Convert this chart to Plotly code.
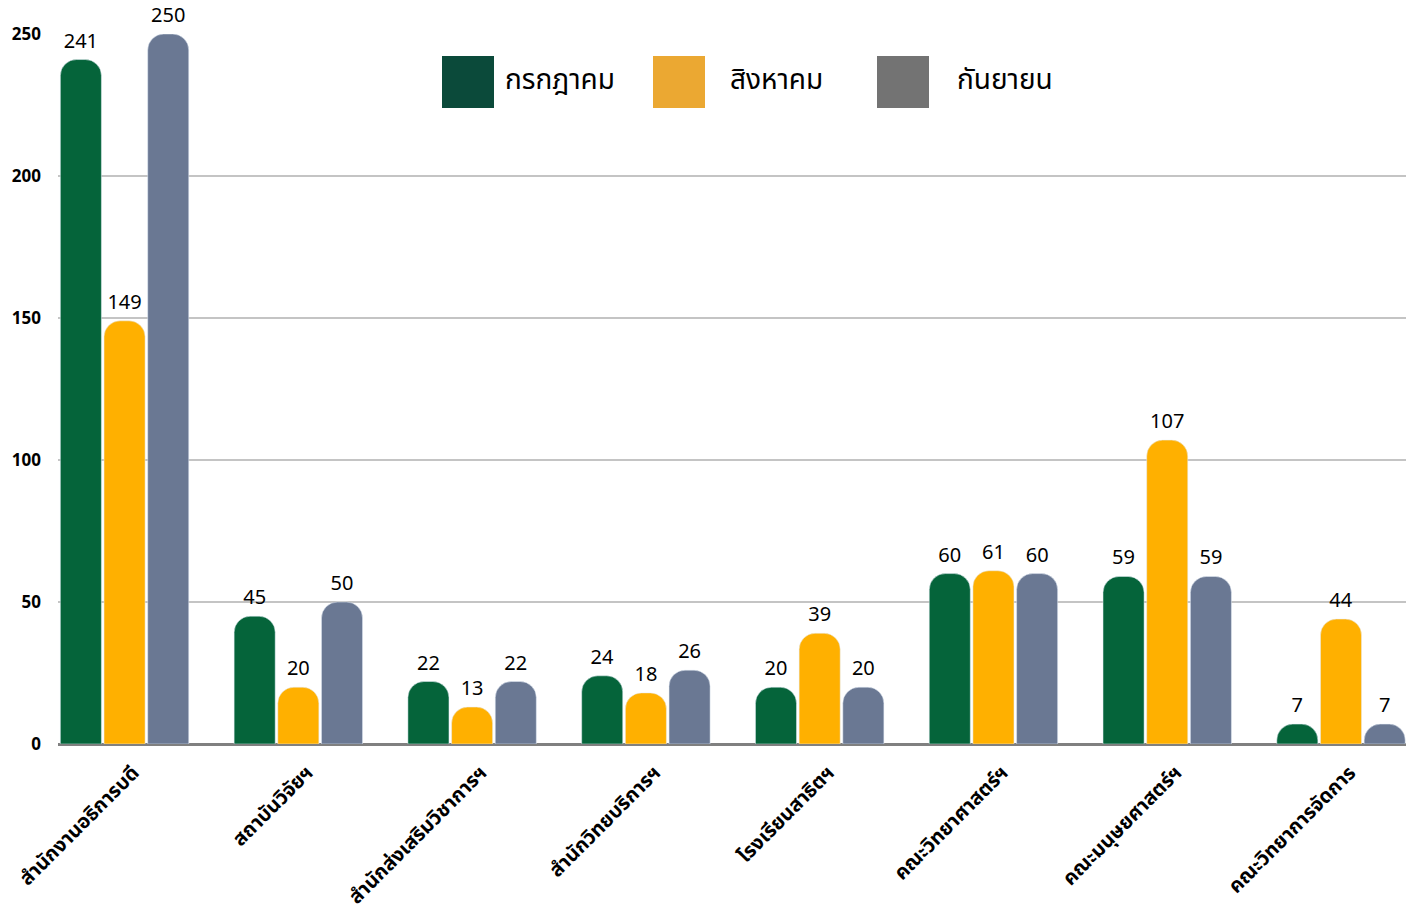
import plotly.graph_objects as go

units = ['สำนักงานอธิการบดี', 'สถาบันวิจัยฯ', 'สำนักส่งเสริมวิชาการฯ', 'สำนักวิทยบริการฯ',
         'โรงเรียนสาธิตฯ', 'คณะวิทยาศาสตร์ฯ', 'คณะมนุษยศาสตร์ฯ', 'คณะวิทยาการจัดการ']
months = ['กรกฎาคม', 'สิงหาคม', 'กันยายน']
jul = [241, 45, 22, 24, 20, 60, 59, 7]
aug = [149, 20, 13, 18, 39, 61, 107, 44]
sep = [250, 50, 22, 26, 20, 60, 59, 7]

bar_colors = ['#05643a', '#ffb000', '#6a7893']
legend_colors = ['#0b4a3a', '#eba832', '#737373']
FONT = 'Noto Sans Thai, Noto Sans, sans-serif'

# page has an 8px body margin, so the figure is a bit smaller than the window
W, H = 1407, 901
L, R, T, B = 50, 9, 26, 165

fig = go.Figure()
for name, vals, c in zip(months, [jul, aug, sep], bar_colors):
    fig.add_trace(go.Bar(
        x=list(range(len(units))), y=vals, name=name, marker_color=c,
        text=vals, textposition='outside', cliponaxis=False,
        textfont=dict(size=20, color='black', family=FONT),
        showlegend=False,
    ))

# big legend squares, drawn by hand (page pixel -> paper)
def px(x):
    return (x - 8 - L) / (W - L - R)

def py(y):
    return (H - B - (y - 8)) / (H - T - B)

leg_x = [442, 653, 877]
leg_tx = [503, 728, 955]
for name, c, x0, tx in zip(months, legend_colors, leg_x, leg_tx):
    fig.add_shape(type='rect', xref='paper', yref='paper',
                  x0=px(x0), x1=px(x0 + 52), y0=py(108), y1=py(56),
                  fillcolor=c, line_width=0)
    fig.add_annotation(xref='paper', yref='paper', x=px(tx), y=py(80),
                       xanchor='left', yanchor='middle', text=name, showarrow=False,
                       font=dict(size=28, color='black', family=FONT))

fig.update_layout(
    width=W, height=H,
    margin=dict(l=L, r=R, t=T, b=B),
    plot_bgcolor='white', paper_bgcolor='white',
    barmode='group', bargap=0.246, bargroupgap=0.06,
    barcornerradius=16,
    showlegend=False,
    font=dict(family=FONT, color='black'),
)
# labels sit a touch right of the group centre in the original
fig.update_xaxes(
    tickmode='array', tickvals=[i + 0.05 for i in range(len(units))], ticktext=units,
    range=[-0.383, 7.374], tickangle=-45, showgrid=False,
    tickfont=dict(size=20, family=FONT, weight='bold'),
    showline=False, ticks='', automargin=False, ticklabeloverflow='allow',
    ticklabelstandoff=12,
)
fig.update_yaxes(
    range=[0, 250], dtick=50, gridcolor='#c4c4c4', gridwidth=2,
    zeroline=True, zerolinecolor='#808080', zerolinewidth=3,
    tickfont=dict(size=17, family=FONT, weight='bold'),
    ticks='', ticklabelstandoff=16, automargin=False,
)
fig.write_html('out.html')
